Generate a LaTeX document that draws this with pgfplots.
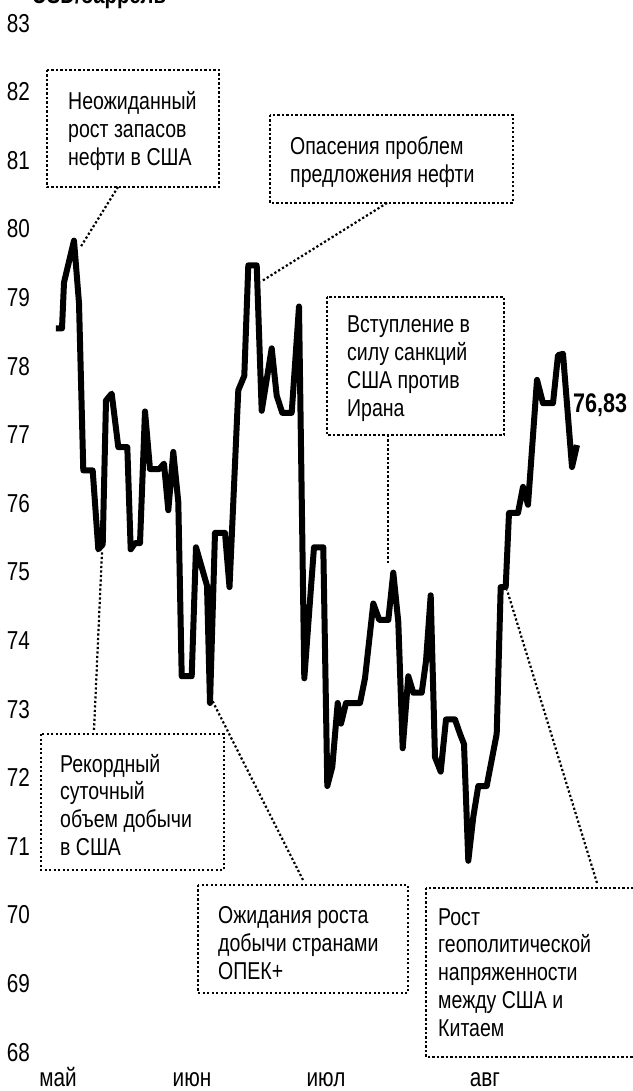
\documentclass[border=0pt]{standalone}
\usepackage{fontspec}
\setmainfont{Liberation Sans}[FakeStretch=0.8]
\usepackage{pgfplots}
\pgfplotsset{compat=1.18}

\tikzset{
  ann/.style={line width=2.2bp, dash pattern=on 2.2bp off 2.3bp},
  anntext/.style={anchor=west, align=left, inner sep=0pt,
    font=\fontsize{24.5}{28}\selectfont},
}

\begin{document}
\begin{tikzpicture}
\begin{axis}[
  scale only axis, width=598bp, height=1029bp,
  xmin=35, xmax=633, ymin=68, ymax=83,
  axis line style={draw=none}, tick style={draw=none},
  ytick={68,69,...,83},
  xtick={58,192,326,485}, xticklabels={май,июн,июл,авг},
  /pgf/number format/assume math mode=true,
  yticklabel style={anchor=east, inner sep=0pt, xshift=-5bp,
    font=\fontsize{26}{30}\selectfont},
  xticklabel style={anchor=base, inner sep=0pt, yshift=-34bp,
    font=\fontsize{26}{30}\selectfont},
  clip=false,
]
\addplot[black, line width=6bp, line join=round] coordinates {
(56,78.55) (62,78.55) (64,79.22) (74,79.83) (79,78.92) (83.3,76.48)
(92.7,76.48) (98.3,75.33) (102.7,75.40) (106,77.50) (111.7,77.60)
(118.3,76.82) (127.3,76.82) (130.7,75.33) (135,75.42) (140,75.42)
(145,77.34) (150,76.50) (159.3,76.50) (164,76.58) (168.3,75.90)
(173.3,76.75) (178.3,76.02) (181.7,73.48) (191.7,73.48) (196,75.36)
(207,74.80) (210,73.09) (215,75.57) (225,75.57) (229.5,74.78)
(238.3,77.65) (244.3,77.86) (248.3,79.47) (256.7,79.47) (261.7,77.35)
(271.7,78.26) (276.7,77.57) (282.3,77.32) (291.7,77.32) (299,78.87)
(304.3,73.45) (310,74.58) (314,75.36) (323.3,75.36) (327.3,71.88)
(332.3,72.16) (337.7,73.09) (341,72.79) (346,73.09) (360,73.09)
(365,73.45) (373.3,74.54) (379.3,74.30) (388.3,74.30) (393.3,74.99)
(398.3,74.27) (402.7,72.43) (408.3,73.48) (413.3,73.24) (421.7,73.24)
(426,73.70) (430.7,74.66) (435,72.30) (440.7,72.09) (446,72.85)
(455,72.85) (460,72.64) (464,72.49) (468.3,70.79) (473.3,71.43)
(478.3,71.88) (486.7,71.88) (496.7,72.64) (500.7,74.78) (505.7,74.78)
(509,75.86) (518,75.86) (523,76.24) (528,75.98) (537,77.80)
(543,77.46) (553,77.46) (558,78.16) (563,78.18) (572,76.53)
(577,76.85)
};

% title, cut by the top edge
\node[anchor=base west, inner sep=0pt, font=\fontsize{25.5}{28}\selectfont\bfseries]
  at (axis cs:32,83.294) {USD/баррель};

% last value
\node[anchor=west, inner sep=0pt, font=\fontsize{27}{30}\selectfont\bfseries]
  at (axis cs:573,77.43) {76,83};

% annotation boxes
\draw[ann] (axis cs:47,82.318) rectangle (axis cs:219,80.612);
\node[anntext] at (axis cs:68,81.43) {Неожиданный\\рост запасов\\нефти в США};
\draw[ann] (axis cs:118,80.612) -- (axis cs:80,79.723);

\draw[ann] (axis cs:270,81.662) rectangle (axis cs:513,80.379);
\node[anntext] at (axis cs:290,80.977) {Опасения проблем\\предложения нефти};
\draw[ann] (axis cs:387,80.379) -- (axis cs:262,79.242);

\draw[ann] (axis cs:327,79.009) rectangle (axis cs:504,76.997);
\node[anntext] at (axis cs:347,77.966) {Вступление в\\силу санкций\\США против\\Ирана};
\draw[ann] (axis cs:388,76.997) -- (axis cs:388,75.102);

\draw[ann] (axis cs:41,72.638) rectangle (axis cs:224,70.656);
\node[anntext] at (axis cs:60,71.604) {Рекордный\\суточный\\объем добычи\\в США};
\draw[ann] (axis cs:94,72.697) -- (axis cs:102,75.29);

\draw[ann] (axis cs:198,70.437) rectangle (axis cs:408,68.863);
\node[anntext] at (axis cs:218,69.585) {Ожидания роста\\добычи странами\\ОПЕК+};
\draw[ann] (axis cs:303,70.51) -- (axis cs:212,73.134);

\draw[ann] (axis cs:426,70.394) rectangle (axis cs:660,67.93);
\node[anntext] at (axis cs:438,69.16) {Рост\\геополитической\\напряженности\\между США и\\Китаем};
\draw[ann] (axis cs:597,70.467) -- (axis cs:507,74.738);

\coordinate (bbsw) at (axis cs:0,67.434);
\coordinate (bbne) at (axis cs:633,83.338);
\end{axis}
\pgfresetboundingbox
\useasboundingbox (bbsw) rectangle (bbne);
\end{tikzpicture}
\end{document}
